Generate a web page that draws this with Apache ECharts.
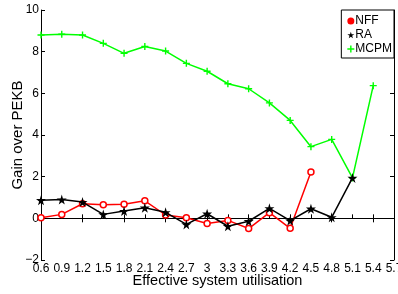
<!DOCTYPE html>
<html>
<head>
<meta charset="utf-8">
<script src="https://cdn.jsdelivr.net/npm/echarts@6/dist/echarts.min.js"></script>
<style>
  html, body { margin: 0; padding: 0; background: #fff; }
  #chart { width: 398px; height: 294px; }
</style>
</head>
<body>
<div id="chart"></div>
<script>
// x 轴刻度 (有效系统利用率)
const utilisation = ['0.6', '0.9', '1.2', '1.5', '1.8', '2.1', '2.4', '2.7', '3', '3.3', '3.6', '3.9', '4.2', '4.5', '4.8', '5.1', '5.4', '5.7'];
const nffGain = [0.03, 0.19, 0.70, 0.65, 0.68, 0.84, 0.16, 0.03, -0.25, -0.10, -0.49, 0.27, -0.48, 2.22];
const raGain = [0.87, 0.90, 0.78, 0.19, 0.35, 0.51, 0.29, -0.29, 0.22, -0.38, -0.14, 0.48, -0.11, 0.46, 0.05, 1.94];
const mcpmGain = [8.80, 8.84, 8.80, 8.40, 7.92, 8.25, 8.03, 7.44, 7.06, 6.46, 6.22, 5.54, 4.70, 3.44, 3.79, 1.94, 6.37];

const STAR = 'path://M50,0L61,35H98L68,57L79,91L50,70L21,91L32,57L2,35H39Z';
const PLUS = 'path://M4,0H6V4H10V6H6V10H4V6H0V4H4Z';
const FONT = 'Liberation Sans';

const chart = echarts.init(document.getElementById('chart'));

const tickStyle = { show: true, inside: true, length: 4, lineStyle: { color: '#000', width: 1 } };

chart.setOption({
  animation: false,
  grid: { left: 41, right: 4, top: 10, bottom: 34, outerBoundsMode: 'none', containLabel: false },
  legend: {
    orient: 'vertical',
    right: 4,
    top: 10,
    backgroundColor: '#fff',
    borderColor: '#000',
    borderWidth: 1,
    padding: [4, 2, 2, 6],
    itemGap: 0,
    itemWidth: 7,
    itemHeight: 7,
    textStyle: { fontFamily: FONT, fontSize: 12, lineHeight: 14, color: '#000', padding: [0, 0, 0, -4] },
    data: [
      { name: 'NFF', icon: 'circle', itemStyle: { color: '#ff0000', borderWidth: 0 } },
      { name: 'RA', icon: STAR, itemStyle: { color: '#000' } },
      { name: 'MCPM', icon: PLUS, itemStyle: { color: '#00ff00' } }
    ]
  },
  xAxis: [
    {
      type: 'category',
      data: utilisation,
      boundaryGap: false,
      axisLine: { lineStyle: { color: '#000', width: 1 } },
      axisTick: tickStyle,
      axisLabel: { interval: 0, fontFamily: FONT, fontSize: 12, color: '#000', margin: 3 },
      name: 'Effective system utilisation',
      nameLocation: 'middle',
      nameMoveOverlap: false,
      nameGap: 13,
      nameTextStyle: { fontFamily: FONT, fontSize: 14.5, color: '#000' }
    },
    {
      type: 'category',
      data: utilisation,
      boundaryGap: false,
      position: 'top',
      axisLine: { lineStyle: { color: '#000', width: 1 } },
      axisTick: tickStyle,
      axisLabel: { show: false }
    }
  ],
  yAxis: [
    {
      type: 'value',
      min: -2,
      max: 10,
      interval: 2,
      axisLine: { show: true, lineStyle: { color: '#000', width: 1 } },
      axisTick: tickStyle,
      splitLine: { show: false },
      axisLabel: {
        fontFamily: FONT, fontSize: 12, color: '#000', margin: 2,
        formatter: v => (v < 0 ? '\u2212' + Math.abs(v) : String(v))
      },
      name: 'Gain over PEKB',
      nameLocation: 'middle',
      nameMoveOverlap: false,
      nameGap: 16,
      nameTextStyle: { fontFamily: FONT, fontSize: 15, color: '#000' }
    },
    {
      type: 'value',
      min: -2,
      max: 10,
      interval: 2,
      position: 'right',
      axisLine: { show: true, lineStyle: { color: '#000', width: 1 } },
      axisTick: tickStyle,
      splitLine: { show: false },
      axisLabel: { show: false }
    }
  ],
  series: [
    {
      name: 'NFF',
      type: 'line',
      data: nffGain,
      symbol: 'circle',
      symbolSize: 6,
      lineStyle: { color: '#ff0000', width: 1.5 },
      itemStyle: { color: '#fff', borderColor: '#ff0000', borderWidth: 1.5 },
      z: 3
    },
    {
      name: 'RA',
      type: 'line',
      data: raGain,
      symbol: STAR,
      symbolSize: 10,
      lineStyle: { color: '#000', width: 1.5 },
      itemStyle: { color: '#000' },
      z: 4
    },
    {
      name: 'MCPM',
      type: 'line',
      data: mcpmGain,
      symbol: PLUS,
      symbolSize: 7,
      lineStyle: { color: '#00ff00', width: 1.5 },
      itemStyle: { color: '#00ff00' },
      z: 2
    }
  ]
});

window.addEventListener('resize', () => chart.resize());
</script>
</body>
</html>
